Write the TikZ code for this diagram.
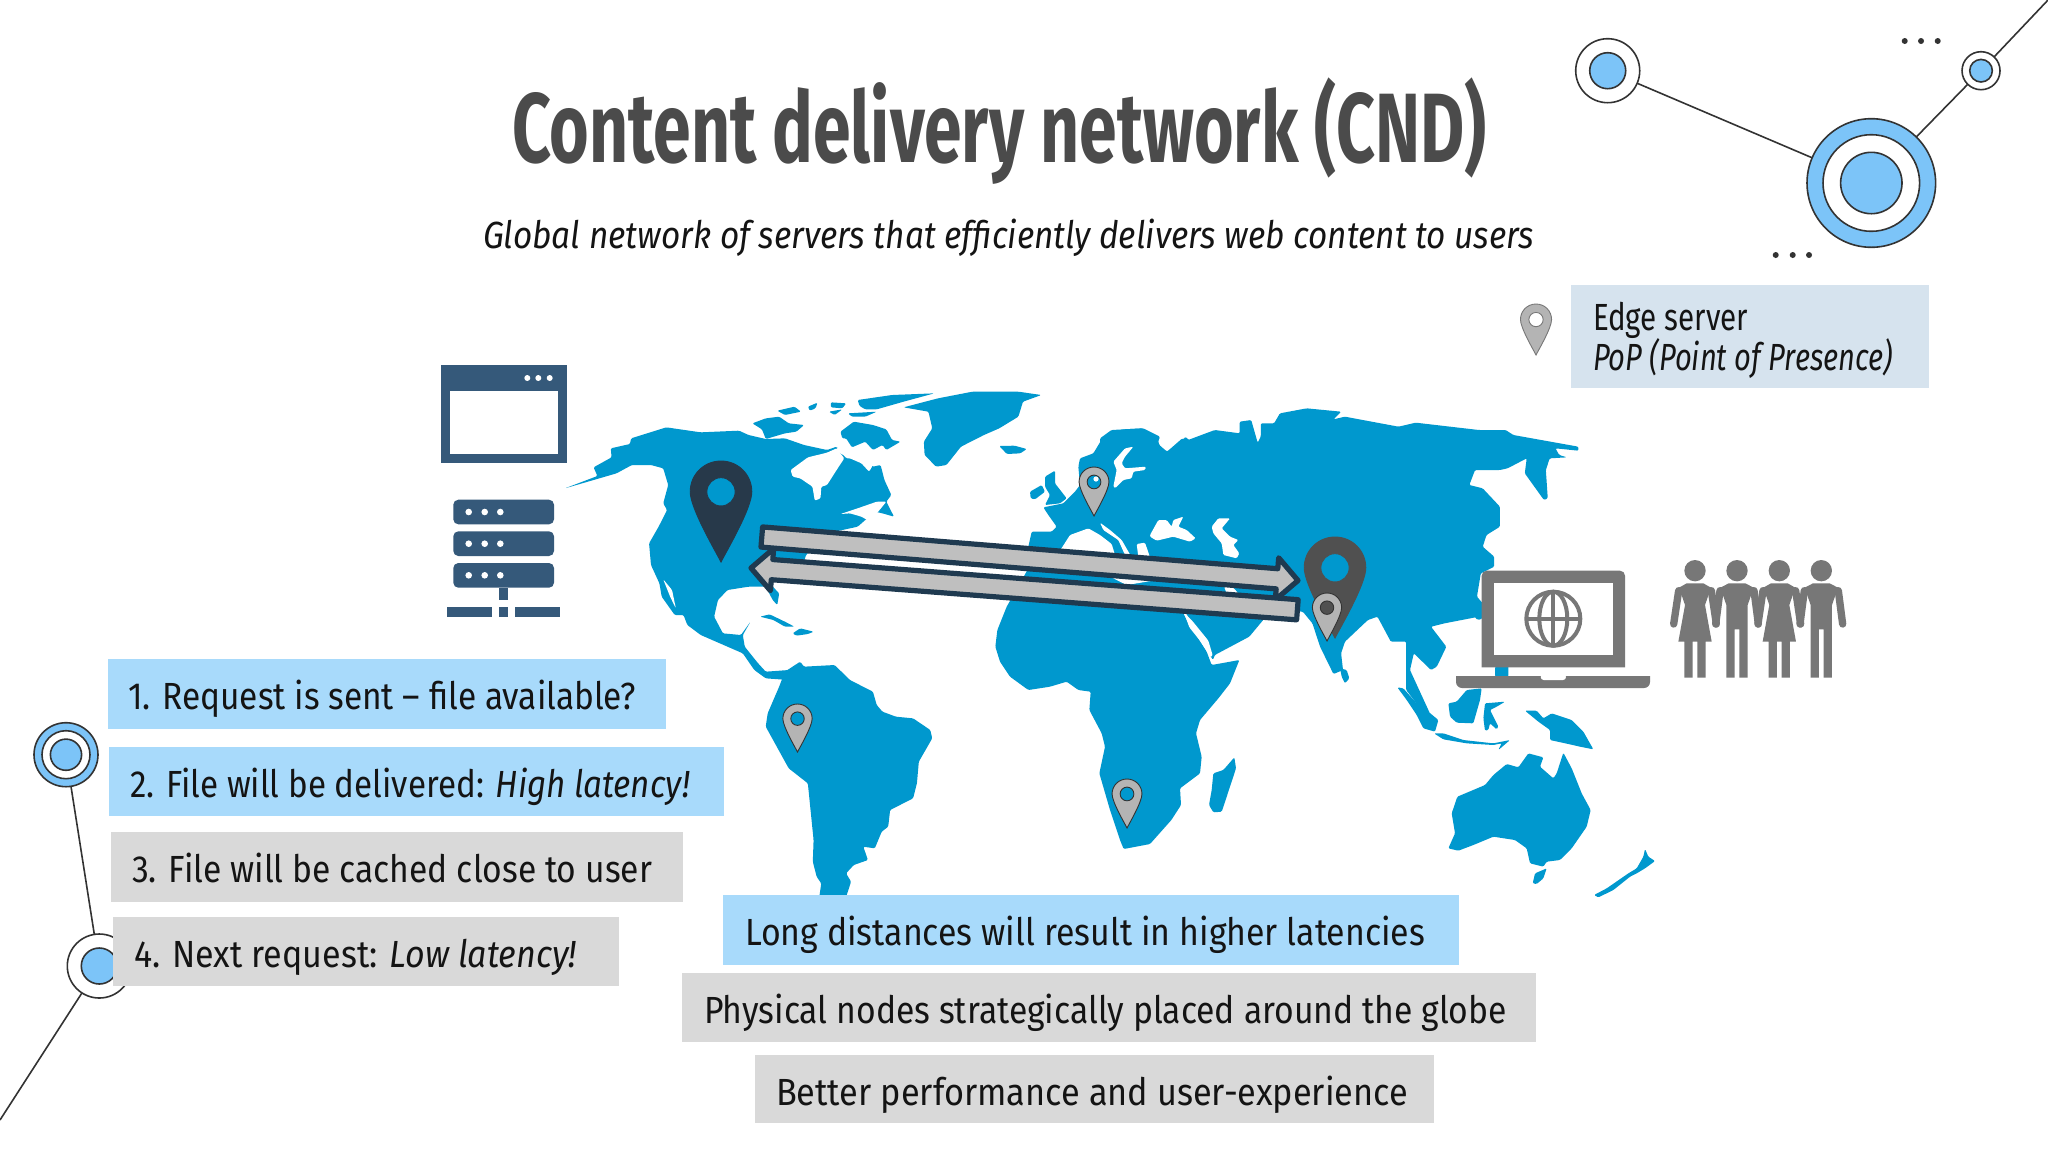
\documentclass[tikz,border=0pt]{standalone}
\usepackage{graphicx}
\usepackage{fontspec}
\setmainfont{Fira Sans}
\usetikzlibrary{shapes.arrows}
\definecolor{mapblue}{HTML}{0098CE}
\definecolor{navy}{HTML}{1F3A50}
\definecolor{pindark}{HTML}{27394A}
\definecolor{pingrey}{HTML}{505050}
\definecolor{pinlight}{HTML}{B4B4B4}
\definecolor{arrowfill}{HTML}{BFBFBF}
\definecolor{slate}{HTML}{35597A}
\definecolor{lap}{HTML}{777777}
\definecolor{boxblue}{HTML}{A8DAFB}
\definecolor{boxgrey}{HTML}{D9D9D9}
\definecolor{boxpale}{HTML}{D6E3EE}
\definecolor{ringblue}{HTML}{7CC4F8}
\definecolor{ink}{HTML}{333333}
\definecolor{titlegrey}{HTML}{4B4B4B}
\definecolor{bodyink}{HTML}{141414}
\tikzset{
  z1/.style={shift={(540,370)},x=0.19135pt,y=-0.16667pt},
  z2/.style={shift={(1100,370)},x=0.19135pt,y=-0.16667pt},
  z3/.style={shift={(760,680)},x=0.19135pt,y=-0.16667pt},
  z8/.style={shift={(1000,420)},x=0.16667pt,y=-0.16667pt},
  z9/.style={shift={(1380,660)},x=0.16667pt,y=-0.16667pt},
  z10/.style={shift={(1000,640)},x=0.16667pt,y=-0.16667pt},
  ring/.style={circle,draw=ink,line width=0.8pt,inner sep=0pt,outer sep=0pt},
  wire/.style={draw=ink,line width=0.8pt},
  bigarrow/.style={single arrow,draw=navy,fill=arrowfill,line width=2.6pt,line join=round,inner sep=0pt,outer sep=0pt,
    single arrow head extend=5.5pt,single arrow head indent=0pt,minimum width=18.5pt,text width=0pt,text height=3.75pt,text depth=3.75pt},
  bx/.style={rectangle,inner sep=0pt,outer sep=0pt,anchor=north west},
  tx/.style={inner sep=0pt,outer sep=0pt,anchor=base west,text=bodyink,font=\fontsize{18.9}{22}\selectfont},
}
\newcommand\fitx[2]{\resizebox{#1pt}{\height}{#2}}
\newcommand\tbox[6]{\node[bx,fill=#6,minimum width={(#4-#2)*0.5pt},minimum height={(#5-#3)*0.5pt}] (#1) at (#2,#3) {};}
\newcommand\pin[6]{\begin{scope}[shift={(#1,#2)},x={#3*0.5pt},y={#3*(-0.5pt)}]
  \path[fill=#4,draw=#5,line width=0.45pt] (0,0) .. controls (-.05,-.1) and (-.305,-.53) .. (-.305,-.695)
   .. controls (-.305,-.865) and (-.17,-1) .. (0,-1) .. controls (.17,-1) and (.305,-.865) .. (.305,-.695)
   .. controls (.305,-.53) and (.05,-.1) .. (0,0) -- cycle;
  \path[fill=#6,draw=#5,line width=0.45pt] (0,-.695) circle [radius=.14];
\end{scope}}
\newcommand\personw[1]{\begin{scope}[shift={(#1,540)},x=0.16667pt,y=-0.16667pt]
  \fill[lap] (0,92) circle [radius=32];
  \fill[lap] (-48,143) -- (-25,130) -- (25,130) -- (48,143) -- (30,195) -- (50,305) -- (32,305) -- (32,413) -- (7,413) -- (7,305) -- (-7,305) -- (-7,413) -- (-32,413) -- (-32,305) -- (-50,305) -- (-30,195) -- cycle;
  \draw[lap,line width=3.67pt,line cap=round] (-49,152) -- (-64,252) (49,152) -- (64,252);
\end{scope}}
\newcommand\personm[1]{\begin{scope}[shift={(#1,540)},x=0.16667pt,y=-0.16667pt]
  \fill[lap] (0,92) circle [radius=32];
  \fill[lap] (-50,143) -- (-25,130) -- (25,130) -- (50,143) -- (32,195) -- (32,413) -- (7,413) -- (7,268) -- (-7,268) -- (-7,413) -- (-32,413) -- (-32,195) -- cycle;
  \draw[lap,line width=3.67pt,line cap=round] (-51,152) -- (-64,252) (51,152) -- (64,252);
\end{scope}}
\begin{document}
\begin{tikzpicture}[x=0.5pt,y=-0.5pt]
\useasboundingbox (0,0) rectangle (2048,1152);
\fill[white] (0,0) rectangle (2048,1152);
% ---------- map: land
\begin{scope}[mapblue,rounded corners=0.6pt]
\fill[z1] plot coordinates {(65,355) (150,318) (140,292) (187,262) (185,235) (235,222) (238,205) (330,172) (420,187) (520,182) (545,195) (590,207) (640,205) (690,225) (750,240) (775,230) (800,265) (830,265) (870,290) (890,285) (900,330) (918,375) (905,395) (925,440) (895,430) (875,425) (850,450) (830,470) (770,485) (750,510) (720,530) (695,555) (690,575) (640,610) (600,640) (625,670) (620,705) (608,690) (590,650) (545,650) (490,660) (465,690) (455,740) (478,790) (525,795) (550,755) (530,795) (535,830) (570,880) (590,905) (650,900) (650,930) (590,925) (560,900) (530,850) (470,820) (420,795) (385,765) (375,735) (352,735) (318,680) (312,640) (290,585) (285,520) (310,470) (332,420) (322,400) (335,345) (322,295) (290,285) (240,285) (200,310)} -- cycle;
\fill[z1] plot coordinates {(575,740) (600,733) (640,755) (665,770) (640,770) (610,750)} -- cycle;
\fill[z1] plot coordinates {(660,790) (680,775) (715,785) (700,792) (670,797)} -- cycle;
\fill[z1] plot coordinates {(555,160) (590,145) (625,140) (650,160) (690,165) (670,185) (640,190) (590,207) (580,178)} -- cycle;
\fill[z1] plot coordinates {(620,122) (665,110) (682,125) (640,135)} -- cycle;
\fill[z1] plot coordinates {(700,110) (725,98) (720,115) (705,122)} -- cycle;
\fill[z1] plot coordinates {(760,97) (800,100) (790,115) (760,112)} -- cycle;
\fill[z1] plot coordinates {(755,125) (790,118) (770,135)} -- cycle;
\fill[z1] plot coordinates {(805,130) (880,125) (850,140) (815,140)} -- cycle;
\fill[z1] plot coordinates {(830,90) (920,75) (1030,70) (950,95) (880,118) (850,118) (835,108)} -- cycle;
\fill[z1] plot coordinates {(785,185) (820,155) (870,165) (905,178) (920,210) (942,215) (905,240) (895,225) (870,240) (850,215) (815,232) (800,205) (790,205)} -- cycle;
\fill[z1] plot coordinates {(950,112) (1040,85) (1130,65) (1250,65) (1310,75) (1262,95) (1250,140) (1200,175) (1160,195) (1100,230) (1062,285) (1035,290) (1005,255) (1003,215) (1025,175) (1015,125)} -- cycle;
\fill[z1] plot coordinates {(1200,228) (1240,227) (1272,237) (1255,250) (1220,252)} -- cycle;
% South America
\fill[z3] plot coordinates {(65,-25) (105,-55) (115,-40) (195,-45) (235,0) (295,35) (305,75) (320,95) (355,110) (400,115) (445,150) (450,175) (415,245) (410,310) (400,355) (340,390) (335,440) (318,455) (300,505) (270,500) (282,540) (245,555) (225,580) (238,605) (225,650) (155,650) (160,610) (148,590) (138,545) (140,480) (125,310) (75,265) (15,140) (20,100) (50,20)} -- cycle;
% Europe
\fill[z8] plot coordinates {(85,420) (85,380) (95,335) (155,335) (170,320) (145,285) (130,262) (190,250) (225,215) (240,195) (235,140) (240,115) (280,100) (310,50) (370,28) (430,25) (480,50) (472,72) (500,95) (545,72) (555,50) (570,62) (650,42) (700,60) (740,100) (760,620) (560,580) (540,560) (100,450)} -- cycle;
% Asia
\fill[z2] plot coordinates {(0,205) (30,180) (110,175) (150,205) (155,225) (175,245) (215,205) (230,210) (300,180) (365,190) (365,155) (395,150) (405,190) (412,218) (420,200) (420,160) (455,160) (470,130) (540,115) (630,125) (610,148) (640,140) (780,170) (825,158) (990,180) (1060,180) (1080,195) (1250,230) (1250,242) (1190,235) (1200,255) (1220,262) (1175,265) (1165,300) (1170,385) (1160,390) (1110,310) (1115,265) (1065,295) (1045,300) (980,300) (965,345) (1000,355) (1045,410) (1045,470) (1010,495) (1000,530) (1030,560) (1030,590) (995,610) (985,680) (1000,700) (990,740) (900,760) (865,770) (905,830) (880,890) (865,900) (820,850) (810,900) (850,1000) (862,1030) (840,1020) (800,960) (800,815) (760,815) (725,740) (700,750) (640,815) (630,850) (635,900) (610,912) (575,830) (555,760) (530,725) (480,720) (430,745) (390,800) (300,855) (295,870) (225,730) (200,600) (150,400) (0,250)} -- cycle;
\fill[z2] (990,725) ellipse [x radius=14,y radius=24];
% Africa
\fill[z8] plot coordinates {(85,445) (60,490) (20,560) (-8,630) (-14,680) (0,725) (30,770) (85,810) (150,800) (200,785) (235,810) (272,815) (268,870) (305,940) (315,980) (298,1060) (330,1170) (360,1260) (371,1287) (450,1272) (514,1200) (543,1155) (540,1105) (600,1060) (605,1010) (588,940) (600,900) (655,835) (690,790) (718,720) (635,735) (620,695) (560,600) (540,560) (540,430) (100,430)} -- cycle;
\fill[z10] plot coordinates {(640,400) (670,390) (703,352) (708,385) (680,470) (665,515) (640,517) (627,495) (635,450)} -- cycle;
\fill[z10] plot coordinates {(1020,85) (1040,90) (1048,115) (1035,130) (1025,110)} -- cycle;
% British Isles
\fill[z8] plot coordinates {(135,170) (165,152) (165,190) (200,235) (180,250) (135,255) (150,225) (135,200)} -- cycle;
\fill[z8] plot coordinates {(90,215) (125,195) (135,215) (105,238) (92,235)} -- cycle;
% SE Asia, Australia
\fill[z9] plot coordinates {(52,82) (70,85) (110,130) (145,155) (175,180) (165,215) (130,205) (110,165) (80,120)} -- cycle;
\fill[z9] plot coordinates {(162,220) (190,220) (250,240) (340,250) (390,240) (355,270) (365,250) (340,255) (260,250) (190,238)} -- cycle;
\fill[z9] plot coordinates {(205,130) (230,125) (260,90) (305,85) (300,120) (280,190) (230,188) (210,170)} -- cycle;
\fill[z9] plot coordinates {(315,130) (375,125) (350,140) (330,150) (355,200) (350,208) (330,190) (325,210) (315,212) (310,175)} -- cycle;
\fill[z9] plot coordinates {(435,152) (470,152) (490,175) (515,160) (575,180) (610,215) (640,268) (600,260) (565,252) (510,240) (510,210) (475,185)} -- cycle;
\fill[z9] plot coordinates {(205,565) (225,520) (215,460) (232,410) (315,375) (340,345) (380,312) (415,322) (445,280) (490,292) (480,320) (520,355) (530,340) (550,278) (575,325) (605,400) (632,450) (620,500) (575,565) (540,600) (500,605) (490,620) (450,610) (440,565) (405,540) (340,530) (280,555) (235,572)} -- cycle;
\fill[z9] plot coordinates {(465,640) (500,625) (490,655) (470,672) (458,670)} -- cycle;
\fill[z9] plot coordinates {(642,705) (680,685) (745,640) (770,625) (790,590) (795,567) (805,590) (825,603) (795,625) (770,640) (750,650) (700,690) (655,712)} -- cycle;
\fill[z9] plot coordinates {(345,20) (385,15) (385,50) (345,50)} -- cycle;
\end{scope}
% ---------- map: seas on top of the land
\begin{scope}[white,rounded corners=0.6pt]
\fill[z1] plot coordinates {(655,300) (700,262) (750,248) (775,235) (795,265) (775,300) (750,345) (735,350) (733,385) (718,392) (712,350) (680,325) (660,320)} -- cycle;
\fill[z1] plot coordinates {(770,240) (790,225) (815,240) (850,270) (870,285) (860,305) (840,280) (800,260)} -- cycle;
\fill[z1] plot coordinates {(785,432) (830,415) (880,395) (905,395) (880,430) (855,450) (840,440) (810,430)} -- cycle;
\fill[z1] plot coordinates {(322,628) (345,660) (355,715) (340,680)} -- cycle;
% Baltic
\fill[z8] plot coordinates {(340,200) (350,150) (340,125) (375,85) (400,80) (375,110) (365,130) (375,145) (438,140) (435,150) (400,155) (395,175) (370,180) (345,205)} -- cycle;
% Mediterranean
\fill[z8] plot coordinates {(178,395) (210,345) (265,325) (300,345) (335,372) (345,405) (420,420) (530,425) (520,450) (470,480) (380,495) (320,465) (180,440)} -- cycle;
\fill[z8] plot coordinates {(300,308) (330,330) (365,360) (385,395) (395,412) (350,408) (375,405) (355,360) (310,330)} -- cycle;
\fill[z8] plot coordinates {(410,372) (435,368) (450,412) (415,412)} -- cycle;
% Black Sea, Caspian, Persian Gulf, Red Sea
\fill[z8] plot coordinates {(450,345) (475,300) (500,300) (515,320) (520,300) (550,290) (535,320) (560,330) (587,355) (570,365) (520,350) (470,362) (450,350)} -- cycle;
\fill[z8] plot coordinates {(635,320) (655,295) (690,295) (665,325) (690,350) (715,360) (700,375) (718,400) (710,415) (670,405) (665,370) (640,340)} -- cycle;
\fill[z8] plot coordinates {(672,500) (695,498) (715,520) (700,530) (680,520)} -- cycle;
\fill[z8] plot coordinates {(552,578) (578,604) (625,662) (638,706) (633,712) (600,662) (568,622)} -- cycle;
\end{scope}
% ---------- browser window and server
\fill[slate] (440.7,365) rectangle (566.7,463);
\fill[white] (450,390.7) rectangle (557.7,454);
\foreach \d in {527.3,538.3,549.7} \fill[white] (\d,378) circle [radius=3];
\foreach \a/\b in {499.7/524.3,531.3/556,563/587.7} \fill[slate,rounded corners=2.5pt] (453.3,\a) rectangle (554,\b);
\foreach \d in {468.7,484.7,500.3} \foreach \e in {512,543.7,575.3} \fill[white] (\d,\e) circle [radius=3.3];
\fill[slate] (499.3,587.7) rectangle (508,600);
\fill[slate] (446.7,607) rectangle (492.3,616.7);
\fill[slate] (499.3,607) rectangle (508,616.7);
\fill[slate] (514.7,607) rectangle (560.3,616.7);
% ---------- block arrows
\node[bigarrow,minimum height=269pt,rotate=-4.64,anchor=tip] (arrowout) at (1298,580.5) {};
\node[bigarrow,minimum height=274pt,rotate=175.63,anchor=tip] (arrowback) at (751,568) {};
% ---------- pins
\pin{721}{562}{101}{pindark}{pindark}{mapblue}
\pin{1335}{638}{101}{pingrey}{pingrey}{mapblue}
\pin{1327}{641}{48}{pinlight}{ink}{pingrey}
\pin{1094}{516}{49}{pinlight}{ink}{mapblue}
\fill[white] (1096,479) circle [radius=2.6];
\pin{797.5}{752}{48}{pinlight}{ink}{mapblue}
\pin{1127}{828}{49}{pinlight}{ink}{mapblue}
\pin{1536}{355}{51}{pinlight}{lap}{white}
% ---------- laptop
\fill[lap] (1481.7,667.3) [rounded corners=2.5pt] -- (1481.7,570.7) -- (1625,570.7) [sharp corners] -- (1625,667.3) -- cycle;
\fill[white] (1494.3,582.7) rectangle (1612.7,654.7);
\begin{scope}[lap,line width=2pt]
\draw (1553.3,618.7) circle [radius=27];
\draw (1553.3,618.7) circle [x radius=14,y radius=27];
\draw (1553.3,591.7) -- (1553.3,645.7);
\draw (1526.3,618.7) -- (1580.3,618.7);
\end{scope}
\fill[lap] (1456,676) [rounded corners=3pt] -- (1456,688) -- (1650,688) [sharp corners] -- (1650,676) -- cycle;
\fill[white,rounded corners=1.5pt] (1540.7,674) -- (1540.7,680) -- (1566,680) -- (1566,674) -- cycle;
% ---------- people
\personw{1695}
\personm{1737}
\personw{1779.3}
\personm{1821.3}
% ---------- network, top right
\node[ring,fill=white,minimum size=32pt] (hubA) at (1607.7,70.7) {};
\node[ring,fill=ringblue,minimum size=18pt] (hubAcore) at (1607.7,70.7) {};
\node[ring,fill=ringblue,minimum size=64.3pt] (hubB) at (1871.3,183) {};
\node[ring,fill=white,minimum size=48.3pt] (hubBmid) at (1871.3,183) {};
\node[ring,fill=ringblue,minimum size=30.7pt] (hubBcore) at (1871.3,183) {};
\node[ring,fill=white,minimum size=19pt] (hubC) at (1981,70.7) {};
\node[ring,fill=ringblue,minimum size=11.3pt] (hubCcore) at (1981,70.7) {};
\coordinate (cornerTR) at (2048,0);
\draw[wire] (hubA) -- (hubB);
\draw[wire] (hubB) -- (hubC);
\draw[wire] (hubC) -- (cornerTR);
\foreach \d in {1904.7,1921,1937.7} \fill[ink] (\d,41) circle [radius=3];
\foreach \d in {1775.7,1792.7,1809} \fill[ink] (\d,255) circle [radius=3];
% ---------- network, left
\node[ring,fill=ringblue,minimum size=32pt] (hubD) at (66,754.7) {};
\node[ring,fill=white,minimum size=24pt] (hubDmid) at (66,754.7) {};
\node[ring,fill=ringblue,minimum size=15.6pt] (hubDcore) at (66,754.7) {};
\node[ring,fill=white,minimum size=32pt] (hubE) at (99.3,966) {};
\node[ring,fill=ringblue,minimum size=18pt] (hubEcore) at (99.3,966) {};
\coordinate (cornerBL) at (0,1120);
\draw[wire] (hubD) -- (hubE);
\draw[wire] (hubE) -- (cornerBL);
% ---------- title
\node[tx,text=titlegrey,font=\fontsize{49.3}{56}\selectfont\bfseries] (title) at (512,162) {\fitx{487.5}{Content delivery network (CND)}};
\node[tx,font=\fontsize{18.9}{22}\selectfont\itshape] (subtitle) at (483,248) {\fitx{525.5}{Global network of servers that efficiently delivers web content to users}};
% ---------- legend
\tbox{legendbox}{1571}{285}{1929}{388}{boxpale}
\node[tx] (legendA) at (1593,330) {\fitx{77.5}{Edge server}};
\node[tx] (legendB) at (1593,370) {\fitx{150}{\itshape PoP (Point of Presence)}};
% ---------- steps
\tbox{stepA}{107.5}{659}{666}{729}{boxblue}
\tbox{stepB}{108.5}{747}{724}{816}{boxblue}
\tbox{stepC}{111}{832}{683}{902}{boxgrey}
\tbox{stepD}{113}{917}{619}{986}{boxgrey}
\node[tx] (stepAt) at (128,709) {\fitx{254}{1. Request is sent – file available?}};
\node[tx] (stepBt) at (130,797) {\fitx{280}{2. File will be delivered: \textit{High latency!}}};
\node[tx] (stepCt) at (132,882) {\fitx{260}{3. File will be cached close to user}};
\node[tx] (stepDt) at (134,967) {\fitx{221.5}{4. Next request: \textit{Low latency!}}};
% ---------- notes
\tbox{noteA}{723}{895}{1459}{965}{boxblue}
\tbox{noteB}{682}{973}{1536}{1042}{boxgrey}
\tbox{noteC}{755}{1055}{1434}{1123}{boxgrey}
\node[tx] (noteAt) at (745,945) {\fitx{340}{Long distances will result in higher latencies}};
\node[tx] (noteBt) at (704,1023) {\fitx{401.5}{Physical nodes strategically placed around the globe}};
\node[tx] (noteCt) at (776,1105) {\fitx{316}{Better performance and user-experience}};
\end{tikzpicture}
\end{document}
